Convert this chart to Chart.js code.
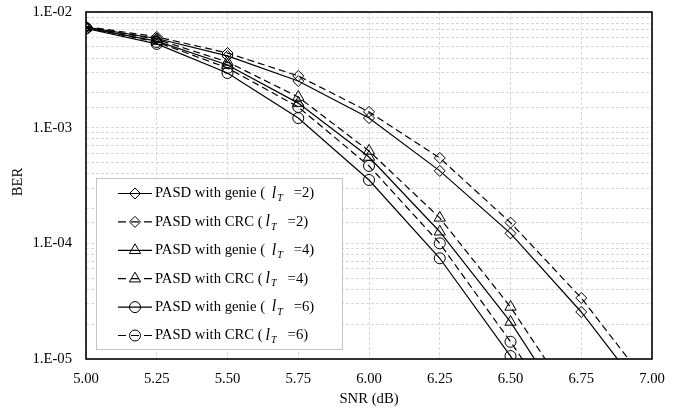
<!DOCTYPE html>
<html>
<head>
<meta charset="utf-8">
<title>BER vs SNR</title>
<script src="https://cdn.jsdelivr.net/npm/chart.js@4/dist/chart.umd.min.js"></script>
<style>
  html, body { margin: 0; padding: 0; background: #fff; }
  canvas { display: block; }
</style>
</head>
<body>
<canvas id="ber" width="678" height="414"></canvas>
<script>
// SNR points (dB)
const snr = [5.00, 5.25, 5.50, 5.75, 6.00, 6.25, 6.50, 6.75, 7.00];

// BER curves
const genieT2 = [7.4e-3, 5.9e-3, 4.17e-3, 2.53e-3, 1.21e-3, 4.23e-4, 1.22e-4, 2.55e-5, 4.1e-6];
const crcT2   = [7.5e-3, 6.1e-3, 4.42e-3, 2.80e-3, 1.37e-3, 5.47e-4, 1.51e-4, 3.37e-5, 5.45e-6];
const genieT4 = [7.3e-3, 5.6e-3, 3.48e-3, 1.63e-3, 5.58e-4, 1.26e-4, 2.09e-5, 2.4e-6];
const crcT4   = [7.4e-3, 5.8e-3, 3.70e-3, 1.84e-3, 6.29e-4, 1.66e-4, 2.82e-5, 3.4e-6];
const genieT6 = [7.2e-3, 5.3e-3, 2.97e-3, 1.21e-3, 3.53e-4, 7.43e-5, 1.06e-5, 1.3e-6];
const crcT6   = [7.3e-3, 5.5e-3, 3.28e-3, 1.51e-3, 4.67e-4, 1.00e-4, 1.41e-5, 1.8e-6];

// Legend text pieces: prefix, T value
const seriesNames = [
  ['PASD with genie ( ', '2'],
  ['PASD with CRC (',    '2'],
  ['PASD with genie ( ', '4'],
  ['PASD with CRC (',    '4'],
  ['PASD with genie ( ', '6'],
  ['PASD with CRC (',    '6']
];

// Axis tick labels
const xTickLabels = ['5.00', '5.25', '5.50', '5.75', '6.00', '6.25', '6.50', '6.75', '7.00'];
const yTickLabels = { '-2': '1.E-02', '-3': '1.E-03', '-4': '1.E-04', '-5': '1.E-05' };

const xTitle = 'SNR (dB)';
const yTitle = 'BER';

const FONT = "'Liberation Serif', 'Times New Roman', serif";
const DASH = [7, 4];

function toPoints(values) {
  return values.map((v, i) => ({ x: snr[i], y: v }));
}

function series(values, style, dashed) {
  const r = style === 'triangle' ? 6.5 : 5.5;
  return {
    data: toPoints(values),
    borderColor: '#000',
    borderWidth: 1.2,
    borderDash: dashed ? DASH : [],
    pointStyle: style,
    pointRadius: r,
    pointHoverRadius: r,
    pointBorderWidth: 1,
    pointBorderColor: '#000',
    pointBackgroundColor: 'rgba(0,0,0,0)',
    backgroundColor: 'rgba(0,0,0,0)',
    fill: false,
    tension: 0
  };
}

const datasets = [
  series(genieT2, 'rectRot', false),
  series(crcT2,   'rectRot', true),
  series(genieT4, 'triangle', false),
  series(crcT4,   'triangle', true),
  series(genieT6, 'circle', false),
  series(crcT6,   'circle', true)
];

function drawMarker(ctx, style, x, y, r) {
  ctx.beginPath();
  if (style === 'circle') {
    ctx.arc(x, y, r, 0, Math.PI * 2);
  } else if (style === 'rectRot') {
    ctx.moveTo(x, y - r); ctx.lineTo(x + r, y); ctx.lineTo(x, y + r); ctx.lineTo(x - r, y);
    ctx.closePath();
  } else if (style === 'triangle') {
    const w = r * Math.sqrt(3) / 2;
    ctx.moveTo(x, y - r);
    ctx.lineTo(x + w, y + r / 2);
    ctx.lineTo(x - w, y + r / 2);
    ctx.closePath();
  }
  ctx.stroke();
}

// Frame around the plot, axis titles and the boxed legend
const decorations = {
  id: 'decorations',
  afterDraw(chart) {
    const ctx = chart.ctx;
    const a = chart.chartArea;
    ctx.save();

    // plot frame
    ctx.strokeStyle = '#000';
    ctx.lineWidth = 1.6;
    ctx.setLineDash([]);
    ctx.strokeRect(a.left, a.top, a.right - a.left, a.bottom - a.top);

    // axis titles
    ctx.fillStyle = '#000';
    ctx.font = '14.7px ' + FONT;
    ctx.textAlign = 'center';
    ctx.textBaseline = 'middle';
    ctx.fillText(xTitle, (a.left + a.right) / 2, 399);
    ctx.save();
    ctx.translate(18, 182);
    ctx.rotate(-Math.PI / 2);
    ctx.fillText(yTitle, 0, 0);
    ctx.restore();

    // legend box
    const bx = 96, by = 178, bw = 246, bh = 171;
    ctx.fillStyle = '#fff';
    ctx.fillRect(bx, by, bw, bh);
    ctx.strokeStyle = '#c4c4c4';
    ctx.lineWidth = 1;
    ctx.strokeRect(bx + 0.5, by + 0.5, bw, bh);

    const rowTop = 193.5, rowGap = 28.4;
    chart.data.datasets.forEach((ds, i) => {
      const y = rowTop + i * rowGap;
      const dashed = ds.borderDash.length > 0;
      ctx.strokeStyle = '#000';
      ctx.lineWidth = 1.2;
      ctx.setLineDash([]);
      ctx.beginPath();
      if (dashed) {
        // dash, marker with a short stroke through it, dash
        ctx.moveTo(118, y); ctx.lineTo(126, y);
        ctx.moveTo(131, y); ctx.lineTo(139, y);
        ctx.moveTo(144, y); ctx.lineTo(152, y);
      } else {
        ctx.moveTo(118, y); ctx.lineTo(152, y);
      }
      ctx.stroke();
      ctx.lineWidth = 1;
      drawMarker(ctx, ds.pointStyle, 135, y, ds.pointStyle === 'triangle' ? 6.5 : 5.5);

      const [prefix, t] = seriesNames[i];
      ctx.fillStyle = '#000';
      ctx.textAlign = 'left';
      ctx.textBaseline = 'middle';
      let x = 155;
      ctx.font = '14.7px ' + FONT;
      ctx.fillText(prefix, x, y);
      x += ctx.measureText(prefix).width + 3;
      ctx.font = 'italic 16px ' + FONT;
      ctx.fillText('l', x, y);
      x += ctx.measureText('l').width + 1;
      ctx.font = 'italic 10px ' + FONT;
      ctx.fillText('T', x, y + 5);
      x += ctx.measureText('T').width + 11;
      ctx.font = '14.7px ' + FONT;
      ctx.fillText('=' + t + ')', x, y);
    });

    ctx.restore();
  }
};

// keep the plot area fixed: no extra room reserved for edge tick labels
function noEdgePadding(scale) {
  scale.paddingTop = 0;
  scale.paddingBottom = 0;
  scale.paddingLeft = 0;
  scale.paddingRight = 0;
}

new Chart(document.getElementById('ber'), {
  type: 'line',
  data: { datasets },
  plugins: [decorations],
  options: {
    responsive: false,
    animation: false,
    events: [],
    layout: { padding: { top: 12, right: 26, left: 0, bottom: 0 } },
    plugins: {
      legend: { display: false },
      tooltip: { enabled: false },
      title: { display: false }
    },
    scales: {
      x: {
        type: 'linear',
        min: 5,
        max: 7,
        afterFit(scale) { scale.height = 55; noEdgePadding(scale); },
        grid: { color: '#d9d9d9', lineWidth: 1, drawTicks: false },
        border: { display: false, dash: [3, 2] },
        ticks: {
          stepSize: 0.25,
          padding: 11,
          color: '#000',
          font: { family: FONT, size: 14.7 },
          maxRotation: 0,
          autoSkip: false,
          callback(v) {
            const idx = Math.round((v - 5) / 0.25);
            return xTickLabels[idx] !== undefined ? xTickLabels[idx] : '';
          }
        }
      },
      y: {
        type: 'logarithmic',
        min: 1e-5,
        max: 1e-2,
        afterFit(scale) { scale.width = 86; noEdgePadding(scale); },
        grid: { color: '#d9d9d9', lineWidth: 1, drawTicks: false },
        border: { display: false, dash: [3, 2] },
        ticks: {
          padding: 14,
          color: '#000',
          font: { family: FONT, size: 14.7 },
          autoSkip: false,
          callback(v) {
            const e = Math.log10(v);
            const r = Math.round(e);
            if (Math.abs(e - r) < 1e-6 && yTickLabels[String(r)]) return yTickLabels[String(r)];
            return '';
          }
        }
      }
    }
  }
});
</script>
</body>
</html>
